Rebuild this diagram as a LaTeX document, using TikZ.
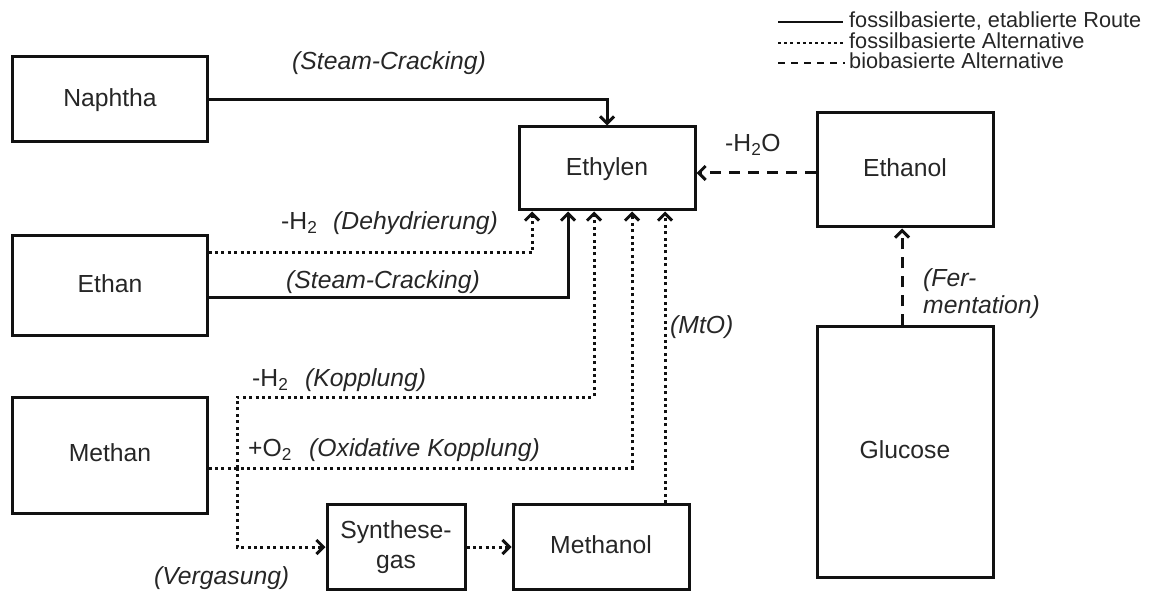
\documentclass[tikz,border=0pt]{standalone}
\usepackage{fontspec}
\setmainfont{Liberation Sans}
\usetikzlibrary{arrows.meta,calc}
\definecolor{txt}{HTML}{262626}
\definecolor{ln}{HTML}{111111}
\begin{document}
\begin{tikzpicture}[x=1bp,y=-1bp,
  box/.style={draw=ln, line width=3bp, inner sep=0pt, align=center, text=txt,
    font=\fontsize{24.8}{30}\selectfont},
  oneline/.style={text height=17.8bp, text depth=4.5bp},
  lab/.style={inner sep=0pt, anchor=west, text=txt, text height=17.8bp, text depth=4.5bp,
    font=\fontsize{24.8}{27}\selectfont\itshape},
  chem/.style={inner sep=0pt, anchor=west, text=txt, text height=17.8bp, text depth=4.5bp,
    font=\fontsize{24.8}{27}\selectfont},
  legtext/.style={inner sep=0pt, anchor=west, text=txt, text height=15bp, text depth=3bp,
    font=\fontsize{21.8}{23}\selectfont},
  tip/.style={-{Straight Barb[length=7bp,width=14bp]}},
  solidline/.style={draw=ln, line width=3bp},
  dotline/.style={draw=ln, line width=3bp, dash pattern=on 3bp off 3.4bp},
  bioline/.style={draw=ln, line width=3bp, dash pattern=on 11bp off 8bp},
]
\useasboundingbox (0,0) rectangle (1160,594);

% boxes
\node[box, oneline, minimum width=194bp, minimum height=85bp]  (naphtha)  at (110,99.5)  {Naphtha};
\node[box, oneline, minimum width=194bp, minimum height=99bp]  (ethan)    at (110,285.5) {Ethan};
\node[box, oneline, minimum width=194bp, minimum height=116bp] (methan)   at (110,455)   {Methan};
\node[box, oneline, minimum width=176bp, minimum height=83bp]  (ethylen)  at (607,168.5) {Ethylen};
\node[box, oneline, minimum width=176bp, minimum height=114bp] (ethanol)  at (905,170)   {Ethanol};
\node[box, oneline, minimum width=176bp, minimum height=250bp] (glucose)  at (905,452)   {Glucose};
\node[box, minimum width=138bp, minimum height=85bp]           (synth)    at (396,547)   {Synthese-\\gas};
\node[box, oneline, minimum width=176bp, minimum height=85bp]  (methanol) at (601,547)   {Methanol};

% turning points
\coordinate (dh) at (532,253);
\coordinate (sc) at (568,298);
\coordinate (mj) at (237,468);
\coordinate (kp) at (594,397);
\coordinate (ox) at (632,468);
\coordinate (mto) at (665,400);

% connectors
\draw[solidline, tip] (naphtha.east) -| (ethylen.north);
\draw[dotline, tip] (ethan.east |- dh) -| (dh |- ethylen.south);
\draw[solidline, tip] (ethan.east |- sc) -| (sc |- ethylen.south);
\draw[dotline, tip] (methan.east |- mj) -| (ox |- ethylen.south);
\draw[dotline, tip] (mj) |- (kp) -- (kp |- ethylen.south);
\draw[dotline, tip] (mj) |- (synth.west);
\draw[dotline, tip] (synth.east) -- (methanol.west);
\draw[dotline, tip] (methanol.north -| mto) -- (ethylen.south -| mto);
\draw[bioline, tip] (ethanol.west |- 0,173) -- (ethylen.east |- 0,173);
\draw[bioline, tip] (glucose.north -| 902,0) -- (ethanol.south -| 902,0);

% labels
\node[lab]  (l1)  at (292,63)  {(Steam-Cracking)};
\node[chem] (l2a) at (281,223) {-H\textsubscript{2}};
\node[lab]  (l2b) at (333,223) {(Dehydrierung)};
\node[lab]  (l3)  at (286,282) {(Steam-Cracking)};
\node[chem] (l4a) at (252,380) {-H\textsubscript{2}};
\node[lab]  (l4b) at (305,380) {(Kopplung)};
\node[chem] (l5a) at (248,450) {+O\textsubscript{2}};
\node[lab]  (l5b) at (309,450) {(Oxidative Kopplung)};
\node[lab]  (l6)  at (154,578) {(Vergasung)};
\node[lab]  (l7)  at (670,327) {(MtO)};
\node[chem] (l8)  at (725,145) {-H\textsubscript{2}O};
\node[inner sep=0pt, anchor=west, text=txt, align=left,
      font=\fontsize{24.8}{27}\selectfont\itshape] (l9) at (923,294) {(Fer-\\mentation)};

% legend
\coordinate (g1a) at (778,22); \coordinate (g1b) at (843,22);
\coordinate (g2a) at (778,43); \coordinate (g2b) at (845,43);
\coordinate (g3a) at (778,63); \coordinate (g3b) at (845,63);
\draw[draw=ln, line width=2.2bp] (g1a) -- (g1b);
\draw[draw=ln, line width=2.2bp, dash pattern=on 3bp off 3.2bp] (g2a) -- (g2b);
\draw[draw=ln, line width=2.2bp, dash pattern=on 7bp off 6bp] (g3a) -- (g3b);
\node[legtext] (t1) at (849,22) {fossilbasierte, etablierte Route};
\node[legtext] (t2) at (849,43) {fossilbasierte Alternative};
\node[legtext] (t3) at (849,63) {biobasierte Alternative};
\end{tikzpicture}
\end{document}
